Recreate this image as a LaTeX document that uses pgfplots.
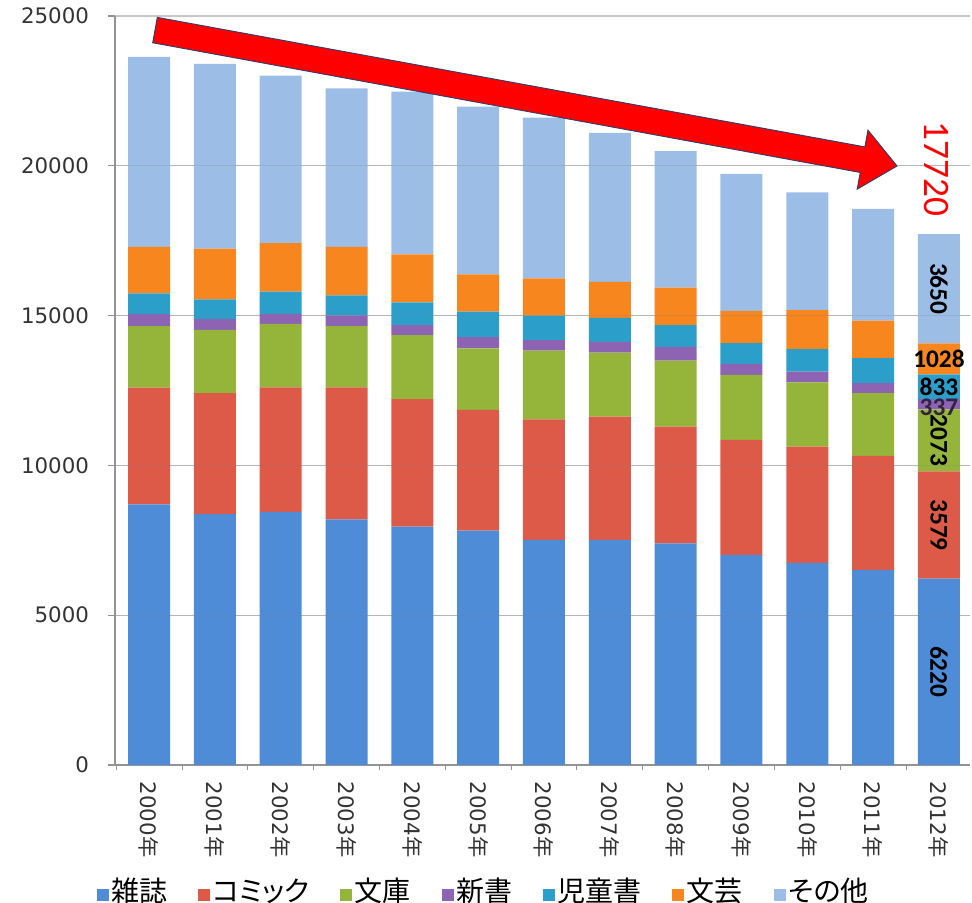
\documentclass[border=0pt]{standalone}
\usepackage{fontspec}
\setmainfont{DejaVu Sans}
\newfontfamily\jp[RawFeature=+palt]{Noto Sans CJK JP}
\newfontfamily\calib{Carlito}
\usepackage{pgfplots}
\pgfplotsset{compat=1.18}

\definecolor{c1}{HTML}{4E8CD8}
\definecolor{c2}{HTML}{DE5A48}
\definecolor{c3}{HTML}{95B43A}
\definecolor{c4}{HTML}{8D63B4}
\definecolor{c5}{HTML}{2B9FC9}
\definecolor{c6}{HTML}{F7861F}
\definecolor{c7}{HTML}{9BBDE6}
\definecolor{arrowline}{HTML}{2F3F66}

\newcommand{\lbl}{\calib\bfseries\fontsize{19}{20}\selectfont}

\begin{document}
\begin{tikzpicture}
\begin{axis}[
  scale only axis, width=641.25pt, height=561.75pt,
  ybar stacked, bar width=31.5pt,
  xmin=-0.517, xmax=12.472, ymin=0, ymax=25000,
  clip=false,
  axis x line*=bottom, axis y line*=left,
  axis line style={draw=gray!85, line width=0.8pt},
  ytick={0,5000,...,25000},
  ymajorgrids, grid style={draw=gray!45, line width=0.8pt},
  xtick={0,...,12},
  xticklabels={2000{\jp 年},2001{\jp 年},2002{\jp 年},2003{\jp 年},2004{\jp 年},2005{\jp 年},2006{\jp 年},2007{\jp 年},2008{\jp 年},2009{\jp 年},2010{\jp 年},2011{\jp 年},2012{\jp 年}},
  major x tick style={draw=none},
  minor xtick={-0.5,0.5,...,12.5},
  minor x tick style={draw=gray!85, line width=0.6pt},
  tick align=outside, major tick length=5pt, minor tick length=4pt,
  y tick style={draw=gray!85, line width=0.8pt},
  tick label style={font=\fontsize{16}{18}\selectfont, text=black!80},
  x tick label style={rotate=-90, anchor=west},
  xticklabel shift=4pt,
  yticklabel shift=11pt,
  /pgf/number format/assume math mode=true,
  /pgf/number format/1000 sep={},
  scaled y ticks=false,
  legend image code/.code={\fill[#1] (0pt,-8pt) rectangle (9pt,1pt);},
  legend style={at={(0.4316,-0.168)}, anchor=center, draw=none, fill=none,
    legend columns=-1, font=\jp\fontsize{21}{24}\selectfont,
    /tikz/every odd column/.append style={column sep=0pt},
    /tikz/every even column/.append style={column sep=21pt}},
]
\addplot[fill=c1, draw=none] coordinates {(0,8700) (1,8370) (2,8445) (3,8200) (4,7955) (5,7820) (6,7510) (7,7510) (8,7400) (9,7010) (10,6750) (11,6510) (12,6220)};
\addplot[fill=c2, draw=none] coordinates {(0,3900) (1,4040) (2,4160) (3,4405) (4,4260) (5,4030) (6,4030) (7,4115) (8,3890) (9,3840) (10,3875) (11,3805) (12,3579)};
\addplot[fill=c3, draw=none] coordinates {(0,2050) (1,2110) (2,2115) (3,2045) (4,2135) (5,2060) (6,2290) (7,2135) (8,2210) (9,2170) (10,2150) (11,2095) (12,2073)};
\addplot[fill=c4, draw=none] coordinates {(0,400) (1,360) (2,335) (3,355) (4,335) (5,375) (6,355) (7,365) (8,460) (9,370) (10,355) (11,335) (12,337)};
\addplot[fill=c5, draw=none] coordinates {(0,690) (1,665) (2,745) (3,670) (4,760) (5,845) (6,810) (7,800) (8,725) (9,690) (10,755) (11,835) (12,833)};
\addplot[fill=c6, draw=none] coordinates {(0,1555) (1,1690) (2,1615) (3,1620) (4,1600) (5,1250) (6,1250) (7,1200) (8,1245) (9,1080) (10,1300) (11,1255) (12,1028)};
\addplot[fill=c7, draw=none] coordinates {(0,6340) (1,6165) (2,5595) (3,5285) (4,5430) (5,5595) (6,5360) (7,4975) (8,4560) (9,4570) (10,3930) (11,3730) (12,3650)};
\legend{雑誌,コミック,文庫,新書,児童書,文芸,その他}

\coordinate (L1) at (axis cs:12,15895);
\coordinate (L2) at (axis cs:12,13556);
\coordinate (L3) at (axis cs:12,12625);
\coordinate (L4) at (axis cs:12,11950);
\coordinate (L5) at (axis cs:12,10835);
\coordinate (L6) at (axis cs:12,8010);
\coordinate (L7) at (axis cs:12,3110);
\coordinate (T1) at (axis cs:11.97,19893);
\coordinate (A1) at (axis cs:0.126,24953);
\coordinate (A2) at (axis cs:10.875,20631);
\coordinate (A3) at (axis cs:10.922,21189);
\coordinate (A4) at (axis cs:11.363,19993);
\coordinate (A5) at (axis cs:10.758,19219);
\coordinate (A6) at (axis cs:10.805,19777);
\coordinate (A7) at (axis cs:0.056,24106);
\coordinate (G1a) at (axis cs:-0.517,5000);  \coordinate (G1b) at (axis cs:12.472,5000);
\coordinate (G2a) at (axis cs:-0.517,10000); \coordinate (G2b) at (axis cs:12.472,10000);
\coordinate (G3a) at (axis cs:-0.517,15000); \coordinate (G3b) at (axis cs:12.472,15000);
\coordinate (G4a) at (axis cs:-0.517,20000); \coordinate (G4b) at (axis cs:12.472,20000);
\end{axis}
\draw[gray, opacity=0.22, line width=0.8pt] (G1a) -- (G1b) (G2a) -- (G2b) (G3a) -- (G3b) (G4a) -- (G4b);
\filldraw[fill=red, draw=arrowline, line width=0.7pt]
  (A1) -- (A2) -- (A3) -- (A4) -- (A5) -- (A6) -- (A7) -- cycle;
\node[rotate=-90, text=red, font=\calib\fontsize{28}{30}\selectfont] at (T1) {17720};
\node[rotate=-90, font=\lbl, inner sep=0pt] at (L1) {3650};
\node[font=\lbl, inner sep=0pt] at (L2) {1028};
\node[font=\lbl, inner sep=0pt] at (L3) {833};
\node[font=\lbl, inner sep=0pt, text=black!65!c4] at (L4) {337};
\node[rotate=-90, font=\lbl, inner sep=0pt] at (L5) {2073};
\node[rotate=-90, font=\lbl, inner sep=0pt] at (L6) {3579};
\node[rotate=-90, font=\lbl, inner sep=0pt] at (L7) {6220};
\pgfresetboundingbox
\path[use as bounding box] ([shift={(-86.25pt,-103.5pt)}]current axis.south west) rectangle ([shift={(1.5pt,12pt)}]current axis.north east);
\end{tikzpicture}
\end{document}
